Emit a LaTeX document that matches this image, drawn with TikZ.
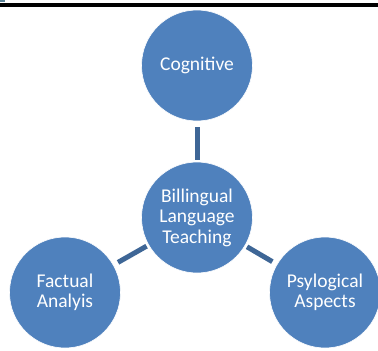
\documentclass[tikz,border=0pt]{standalone}
\usepackage{fontspec}
\setmainfont{Carlito}
\usetikzlibrary{calc}
\definecolor{bubble}{RGB}{79,129,189}
\definecolor{spoke}{RGB}{62,102,150}
\definecolor{corner}{RGB}{90,130,150}
\tikzset{topic/.style={circle,fill=bubble,draw=white,line width=0.6pt,minimum size=111pt,inner sep=0pt,outer sep=0pt,text=white,align=center,font=\fontsize{19.5}{20.5}\selectfont},
	link/.style={draw=spoke,line width=5pt,shorten <=2.5pt,shorten >=5.5pt}}

\begin{document}
\begin{tikzpicture}[x=1pt,y=-1pt]
			%%%%% START %%%%%
			\def\W{378}
			\def\H{351}
			\def\xmid{197}
			\def\ytop{65.5}
			\def\ymid{217.5}
			\def\ylow{292.5}
			\def\xleft{65}
			\def\xright{325}
			
			\useasboundingbox (0,0) rectangle (\W,\H);
			\fill[corner] (0,0) rectangle (5,2);
			\fill[black] (0,3) rectangle (\W,7.2);
			
			\node[topic] (cog) at (\xmid,\ytop) {Cognitive};
			\node[topic] (blt) at (\xmid,\ymid) {Billingual\\Language\\Teaching};
			\node[topic] (fact) at (\xleft,\ylow) {Factual\\Analyis};
			\node[topic] (psy) at (\xright,\ylow) {Psylogical\\Aspects};
			
			\draw[link] (blt) -- (cog);
			\draw[link] (blt) -- (fact);
			\draw[link] (blt) -- (psy);
			%%%%% END %%%%%
\end{tikzpicture}
\end{document}
